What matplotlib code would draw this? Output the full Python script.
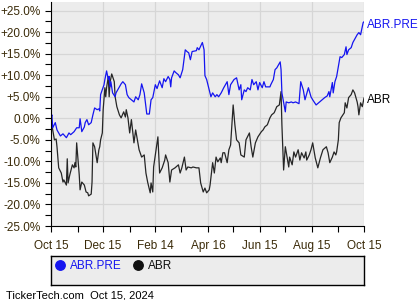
import pandas as pd
import matplotlib.pyplot as plt
from matplotlib.ticker import FuncFormatter, MultipleLocator
from matplotlib.lines import Line2D

START = pd.Timestamp("2023-10-15")

# days after Oct 15 2023, % change
pre_days = [0, 1, 2, 5, 7, 11, 14, 18, 21, 23, 27, 30, 33, 34, 35, 36, 39, 40, 42, 44,
            47, 49, 51, 54, 56, 57, 58, 62, 63, 65, 67, 68, 69, 70, 72, 75, 76, 78, 82, 84,
            87, 89, 91, 94, 97, 99, 102, 104, 106, 109, 111, 112, 115, 117, 119, 122, 124, 127, 130, 132,
            134, 137, 139, 140, 141, 144, 146, 149, 151, 154, 157, 159, 161, 163, 165, 170, 171, 173, 177, 179,
            180, 182, 185, 187, 189, 192, 194, 196, 199, 202, 206, 208, 210, 214, 217, 220, 222, 223, 226, 228,
            230, 233, 235, 237, 240, 242, 244, 247, 249, 251, 254, 256, 257, 260, 262, 264, 268, 269, 270, 274,
            275, 278, 281, 283, 286, 290, 292, 295, 297, 301, 304, 306, 310, 313, 317, 320, 323, 325, 326, 329,
            330, 332, 334, 336, 338, 340, 343, 345, 346, 348, 351, 353, 355, 358, 360, 362, 365, 366]
pre_vals = [0.0, 0.8, -2.2, -1.0, -2.7, -4.1, -3.6, -4.5, -3.4, -3.8, -3.1, -2.2, -2.2, -0.1, -1.5, -3.1, -2.0, -1.0, -0.3, -1.5,
            -1.0, 0.8, 2.4, 2.0, 2.2, 1.7, 5.5, 7.8, 9.0, 11.0, 9.0, 9.7, 7.3, 8.5, 5.9, 5.0, 5.9, 6.6, 8.0, 8.5,
            7.8, 5.5, 4.8, 4.3, 3.8, 5.0, 4.3, 5.5, 8.0, 5.9, 2.7, 1.0, 1.0, 4.3, 4.8, 7.8, 6.9, 8.7, 7.1, 9.2,
            8.5, 9.7, 9.0, 7.3, 9.4, 11.0, 10.6, 10.1, 9.4, 11.3, 15.9, 15.5, 15.2, 13.6, 15.5, 15.7, 16.4, 15.9, 17.6, 15.9,
            9.9, 9.0, 6.6, 5.0, 5.9, 5.0, 5.5, 5.0, 5.9, 7.1, 8.5, 5.5, 7.8, 9.0, 9.4, 6.6, 7.8, 4.3, 6.6, 6.2,
            7.1, 6.6, 9.0, 7.8, 8.5, 6.6, 8.3, 7.1, 8.5, 7.3, 7.3, 7.3, 7.8, 9.0, 11.3, 11.7, 13.1, 11.3, 5.9, 1.5,
            3.8, 3.6, 3.8, 3.6, 3.8, 3.4, 8.5, 6.6, 4.3, 7.1, 5.0, 4.3, 3.1, 3.6, 4.3, 4.8, 5.2, 6.2, 5.0, 8.3,
            5.9, 8.5, 9.7, 12.0, 14.3, 14.1, 14.8, 16.6, 14.8, 15.9, 16.4, 17.6, 18.3, 19.4, 19.9, 19.4, 22.2, 22.4]

abr_days = [0, 2, 4, 6, 7, 9, 12, 14, 15, 18, 19, 20, 22, 25, 27, 28, 29, 30, 33, 34,
            36, 39, 41, 43, 44, 47, 48, 49, 51, 54, 56, 57, 58, 60, 61, 63, 64, 65, 67, 68,
            69, 71, 74, 75, 77, 80, 82, 85, 87, 88, 90, 92, 94, 97, 99, 101, 103, 106, 109, 111,
            113, 116, 117, 119, 120, 124, 125, 127, 130, 133, 134, 137, 139, 141, 145, 149, 151, 153, 156, 158,
            160, 164, 166, 170, 173, 175, 178, 180, 182, 185, 186, 189, 191, 193, 195, 198, 199, 201, 203, 206,
            208, 210, 213, 215, 217, 220, 222, 226, 228, 232, 234, 236, 239, 242, 246, 248, 250, 253, 256, 258,
            261, 264, 267, 269, 270, 272, 274, 276, 278, 279, 282, 284, 286, 289, 291, 293, 296, 298, 299, 302,
            304, 306, 309, 312, 315, 318, 322, 324, 326, 329, 331, 333, 334, 336, 337, 339, 343, 344, 346, 348,
            351, 353, 355, 358, 359, 360, 362, 364, 366]
abr_vals = [0.0, -2.7, -5.0, -4.8, -6.6, -11.5, -12.7, -14.8, -14.3, -15.5, -9.4, -15.0, -13.1, -10.8, -11.5, -10.3, -11.3, -5.7, -13.1, -16.6,
            -14.8, -15.5, -17.1, -17.3, -18.0, -17.6, -14.8, -5.7, -6.6, -10.3, -7.3, -6.6, -5.0, -3.4, 2.0, 7.1, 5.0, 7.1, 9.7, 5.0,
            8.3, 10.3, 8.5, 5.0, 2.7, 0.8, 0.1, 1.5, 0.3, 2.0, 0.1, -3.4, -0.3, -5.7, -2.7, -5.0, -7.3, -9.0, -8.5, -12.7,
            -14.8, -17.3, -15.0, -17.1, -11.3, -5.7, -4.3, -12.7, -11.5, -9.7, -8.5, -10.3, -14.8, -12.0, -11.5, -10.8, -12.7, -11.5, -9.0, -12.0,
            -11.3, -11.5, -11.3, -11.5, -11.5, -15.0, -17.1, -16.2, -17.3, -16.6, -15.5, -10.3, -12.7, -9.0, -10.1, -9.2, -10.3, -8.0, -8.0, -10.3,
            -7.3, -6.2, 3.1, -1.5, -5.0, -5.7, -8.5, -9.0, -5.0, -3.4, -6.6, -9.0, -5.7, -4.3, -3.1, -2.7, -2.0, -1.5, 0.1, 0.8,
            1.3, 2.7, 3.1, 6.2, -1.5, -12.0, -6.6, -9.0, -11.3, -9.0, -10.8, -7.8, -9.0, -7.3, -9.7, -8.0, -9.2, -7.8, -9.7, -8.5,
            -7.3, -5.7, -9.2, -11.5, -9.2, -7.3, -6.6, -8.0, -10.3, -9.0, -7.8, -8.5, -7.8, -5.0, -1.0, 0.1, 1.3, 3.6, 2.4, 4.8,
            5.5, 6.6, 5.9, 3.8, 2.7, 0.8, 3.6, 2.7, 4.7]

tick_dates = ["2023-10-15", "2023-12-15", "2024-02-14", "2024-04-16",
              "2024-06-15", "2024-08-15", "2024-10-15"]
minor_dates = ["2023-11-15", "2024-01-15", "2024-03-15", "2024-05-15",
               "2024-07-15", "2024-09-15"]

pre_x = START + pd.to_timedelta(pre_days, unit="D")
abr_x = START + pd.to_timedelta(abr_days, unit="D")

label_color = "#3a2a08"
blue = "#1515f0"
dark = "#262626"

plt.rcParams["font.family"] = ["Liberation Sans", "DejaVu Sans"]

fig = plt.figure(figsize=(4.2, 3.0), dpi=100)
ax = fig.add_axes([51 / 420, 74 / 300, 313 / 420, 224 / 300])
ax.set_facecolor("#ececec")

ax.plot(abr_x, abr_vals, color=dark, lw=0.9)
ax.plot(pre_x, pre_vals, color=blue, lw=0.9)

ax.set_xlim(pd.Timestamp(tick_dates[0]), pd.Timestamp(tick_dates[-1]))
ax.set_ylim(-25, 27)

ax.set_xticks(pd.to_datetime(tick_dates))
ax.set_xticklabels([pd.Timestamp(d).strftime("%b %d").replace(" 0", " ") for d in tick_dates])
ax.set_xticks(pd.to_datetime(minor_dates), minor=True)
ax.yaxis.set_major_locator(MultipleLocator(5))
ax.yaxis.set_minor_locator(MultipleLocator(2.5))
ax.yaxis.set_major_formatter(FuncFormatter(lambda v, p: f"{v:+.1f}%" if abs(v) > 1e-9 else "0.0%"))

ax.grid(True, which="major", color="#d6d6d6", lw=0.9)
ax.set_axisbelow(True)
for s in ["top", "right"]:
    ax.spines[s].set_visible(False)
ax.spines["left"].set_color("black")
ax.spines["bottom"].set_color("black")
ax.tick_params(which="both", direction="out", length=4, width=0.8, color="black",
               labelcolor=label_color, labelsize=8.5)
ax.tick_params(axis="x", pad=6)

# end labels
ax.annotate("ABR.PRE", (1, pre_vals[-1]), xycoords=("axes fraction", "data"),
            xytext=(2, -2), textcoords="offset points", color=blue, fontsize=8.5,
            va="center", ha="left", annotation_clip=False)
ax.annotate("ABR", (1, abr_vals[-1]), xycoords=("axes fraction", "data"),
            xytext=(2, -1.5), textcoords="offset points", color="black", fontsize=8.5,
            va="center", ha="left", annotation_clip=False)

# legend box
lax = fig.add_axes([51 / 420, 15 / 300, 313 / 420, 29 / 300])
lax.set_facecolor("#ececec")
lax.set_xticks([])
lax.set_yticks([])
for s in lax.spines.values():
    s.set_color("black")
    s.set_linewidth(1.0)
handles = [Line2D([], [], marker="o", ls="", color=blue, markersize=6.8),
           Line2D([], [], marker="o", ls="", color="#111111", markersize=6.8)]
leg = lax.legend(handles, ["ABR.PRE", "ABR"], loc="center left", bbox_to_anchor=(0.014, 0.66),
                 ncol=2, frameon=False, fontsize=8.5, handlelength=0.8, handletextpad=0.4,
                 columnspacing=1.05, borderaxespad=0.0, borderpad=0.0)
leg.get_texts()[0].set_color(blue)
leg.get_texts()[1].set_color("#111111")

fig.text(6 / 420, 5 / 300, "TickerTech.com  Oct 15, 2024", fontsize=8, color="black",
         ha="left", va="center")

fig.savefig("out.png", dpi=100)
